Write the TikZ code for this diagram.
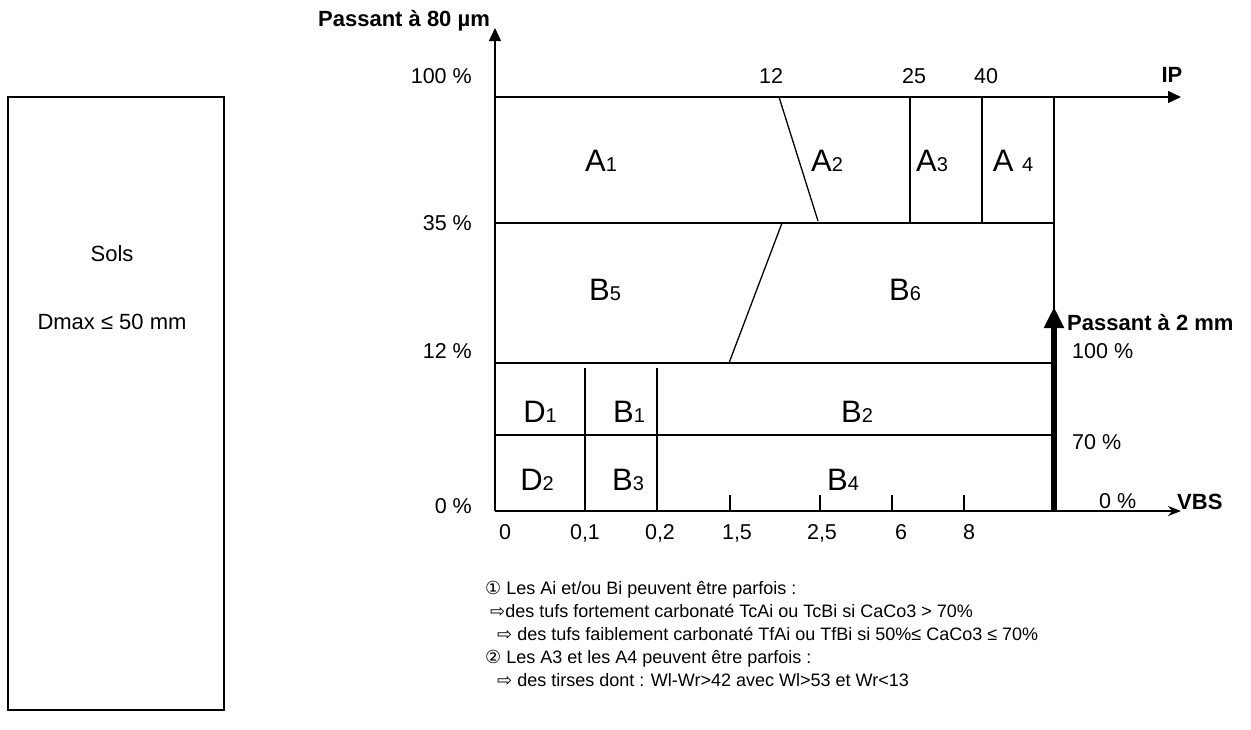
\documentclass[tikz,border=0pt]{standalone}
\usepackage{fontspec}
\setmainfont{Liberation Sans}
\newfontfamily\symfont{DejaVu Sans}
\usetikzlibrary{arrows.meta}
\newcommand{\zsub}[1]{{\fontsize{20}{20}\selectfont #1}}
\tikzset{
  ln/.style={line width=1.3pt},
  axlbl/.style={inner sep=0pt, font=\fontsize{21.5}{24}\selectfont},
  zone/.style={inner sep=0pt, anchor=base, font=\fontsize{31}{34}\selectfont},
  boldlbl/.style={inner sep=0pt, font=\bfseries\fontsize{22}{26}\selectfont},
  note/.style={inner sep=0pt, anchor=base west, font=\fontsize{18}{22}\selectfont},
  boxlbl/.style={inner sep=0pt, font=\fontsize{22}{26}\selectfont},
  axarrow/.style={ln, -{Triangle[length=13pt,width=12pt]}},
}
\begin{document}
\begin{tikzpicture}[x=1pt,y=-1pt]
\useasboundingbox (0,0) rectangle (1251,729);
% left box
\coordinate (bxa) at (8,97);
\coordinate (bxb) at (224,710);
\draw[line width=1.6pt] (bxa) rectangle (bxb);
\node[boxlbl] (sols) at (112,254) {Sols};
\node[boxlbl] (dmax) at (112,322) {Dmax ≤ 50 mm};

% axes coordinates
\coordinate (O) at (495,511);
\coordinate (Ytip) at (495,28);
\coordinate (T0) at (495,97);
\coordinate (Tend) at (1181,97);
\coordinate (Bend) at (1181,511);
\coordinate (R0) at (1054,97);
\coordinate (R1) at (1054,320);
\coordinate (Rb) at (1054,511);
\coordinate (Rt) at (1054,307);
\coordinate (L35) at (495,223);
\coordinate (R35) at (1054,223);
\coordinate (L12) at (495,363);
\coordinate (R12) at (1054,363);
\coordinate (L70) at (495,435);
\coordinate (R70) at (1054,435);

\draw[axarrow] (O) -- (Ytip);
\draw[axarrow] (T0) -- (Tend);
\draw[ln, -{Stealth[length=13pt,width=10pt]}] (O) -- (Bend);
\draw[ln] (R0) -- (R1);
\draw[ln] (L35) -- (R35);
\draw[ln] (L12) -- (R12);
\draw[ln] (L70) -- (R70);
\draw[line width=6.5pt, -{Triangle[length=21pt,width=19pt]}] (Rb) -- (Rt);

% inner separators
\coordinate (a2t) at (779,97);
\coordinate (a2b) at (818,221);
\draw[ln] (a2t) -- (a2b);
\coordinate (a3t) at (910,97);
\coordinate (a3b) at (910,223);
\draw[ln] (a3t) -- (a3b);
\coordinate (a4t) at (982,97);
\coordinate (a4b) at (982,223);
\draw[ln] (a4t) -- (a4b);
\coordinate (b6t) at (782,223);
\coordinate (b6b) at (729,363);
\draw[ln] (b6t) -- (b6b);
\coordinate (v1t) at (585,368);
\coordinate (v1b) at (585,511);
\draw[ln] (v1t) -- (v1b);
\coordinate (v2t) at (657,368);
\coordinate (v2b) at (657,511);
\draw[ln] (v2t) -- (v2b);
% ticks
\foreach \tx/\tn in {730/t15, 820/t25, 892/t6, 964/t8}{
  \coordinate (\tn a) at (\tx,495);
  \coordinate (\tn b) at (\tx,511);
  \draw[ln] (\tn a) -- (\tn b);
}

% axis labels
\node[boldlbl, anchor=base west] (p80) at (318,26) {Passant à 80 µm};
\node[boldlbl, anchor=base] (ip) at (1172,82) {IP};
\node[axlbl, anchor=base east] (l100) at (472,83) {100 \%};
\node[axlbl, anchor=base east] (l35) at (472,230) {35 \%};
\node[axlbl, anchor=base east] (l12) at (472,358) {12 \%};
\node[axlbl, anchor=base east] (l0) at (472,513) {0 \%};
\node[axlbl, anchor=base] (ip12) at (771,83) {12};
\node[axlbl, anchor=base] (ip25) at (914,83) {25};
\node[axlbl, anchor=base] (ip40) at (986,83) {40};
\node[axlbl, anchor=base] (v0) at (505,539) {0};
\node[axlbl, anchor=base] (v01) at (585,539) {0,1};
\node[axlbl, anchor=base] (v02) at (660,539) {0,2};
\node[axlbl, anchor=base] (v15) at (737,539) {1,5};
\node[axlbl, anchor=base] (v25) at (822,539) {2,5};
\node[axlbl, anchor=base] (v6) at (901,539) {6};
\node[axlbl, anchor=base] (v8) at (969,539) {8};
\node[boldlbl, anchor=base west] (p2) at (1067,330) {Passant à 2 mm};
\node[axlbl, anchor=base west] (r100) at (1072,358) {100 \%};
\node[axlbl, anchor=base west] (r70) at (1072,449) {70 \%};
\node[axlbl, anchor=base west] (r0) at (1099,508) {0 \%};
\node[boldlbl, anchor=base west] (vbs) at (1177,509) {VBS};

% zone labels
\node[zone] (A1) at (601,171) {A\zsub{1}};
\node[zone] (A2) at (827,171) {A\zsub{2}};
\node[zone] (A3) at (932,171) {A\zsub{3}};
\node[zone] (A4) at (1013,171) {A \zsub{4}};
\node[zone] (B5) at (605,300) {B\zsub{5}};
\node[zone] (B6) at (905,300) {B\zsub{6}};
\node[zone] (D1) at (540,422) {D\zsub{1}};
\node[zone] (B1) at (629,422) {B\zsub{1}};
\node[zone] (B2) at (857,422) {B\zsub{2}};
\node[zone] (D2) at (537,490) {D\zsub{2}};
\node[zone] (B3) at (628,490) {B\zsub{3}};
\node[zone] (B4) at (843,490) {B\zsub{4}};

% notes
\node[note] (n1) at (485,594) {{\symfont ①} Les Ai et/ou Bi peuvent être parfois :};
\node[note] (n2) at (490,617) {{\symfont ⇨}des tufs fortement carbonaté TcAi ou TcBi si CaCo3 > 70\%};
\node[note] (n3) at (497,640) {{\symfont ⇨} des tufs faiblement carbonaté TfAi ou TfBi si 50\%≤ CaCo3 ≤ 70\%};
\node[note] (n4) at (485,663) {{\symfont ②} Les A3 et les A4 peuvent être parfois :};
\node[note] (n5) at (497,686) {{\symfont ⇨} des tirses dont : Wl-Wr>42 avec Wl>53 et Wr<13};
\end{tikzpicture}
\end{document}
